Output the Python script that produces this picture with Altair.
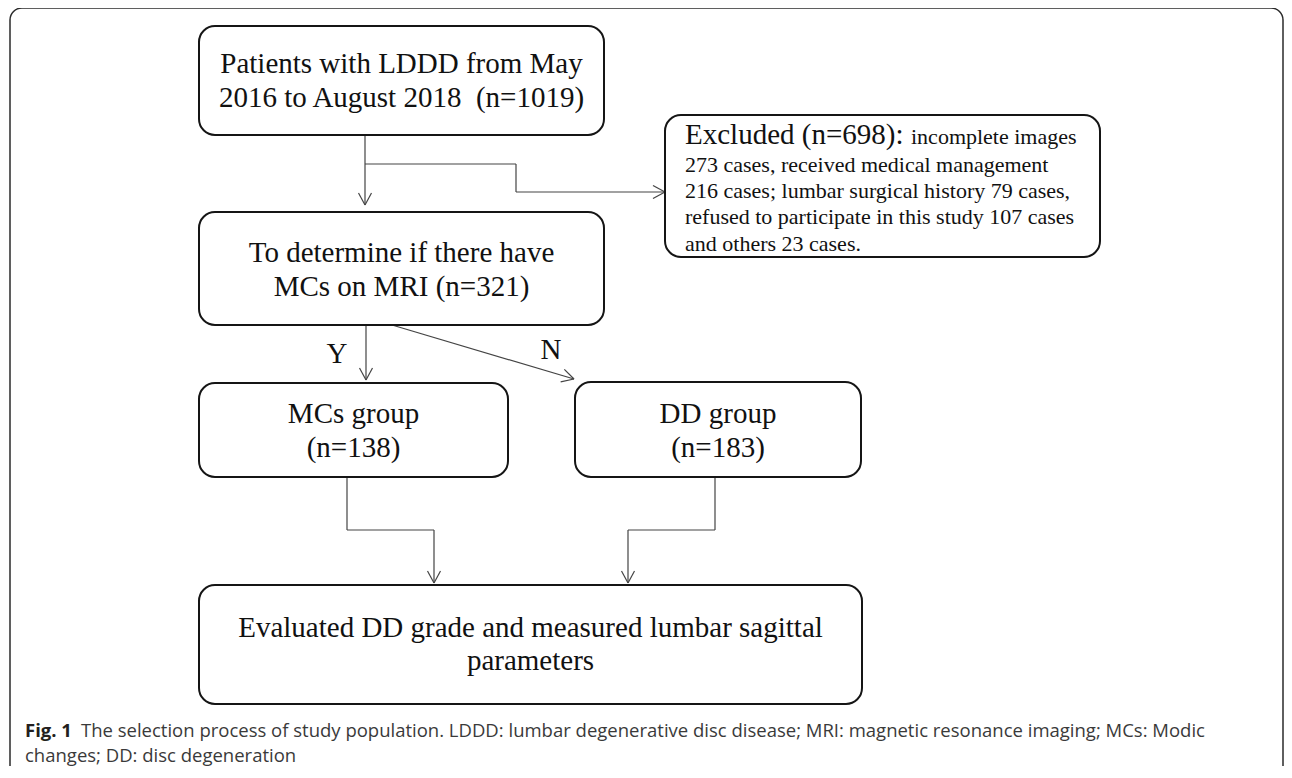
import altair as alt
import pandas as pd

# ---------------- data (page pixel coordinates) ----------------
box_left = [199, 199, 665, 199, 575, 199]
box_right = [604, 604, 1100, 508, 861, 862]
box_top = [26, 212, 115, 383, 382, 585]
box_bottom = [135, 325, 257, 477, 477, 704]

frame_left = [10]
frame_right = [1283]
frame_top = [8]
frame_bottom = [780]

# connectors as polylines; the last point of each carries an arrowhead
conn_x = [[365, 365], [365, 516, 516, 665], [366, 366], [392, 574],
          [347, 347, 434, 434], [715, 715, 628, 628]]
conn_y = [[135, 205], [164, 164, 192, 192], [325, 380], [325, 379],
          [477, 530, 530, 583], [477, 530, 530, 583]]

# centred box texts
center_text = ["Patients with LDDD from May", "2016 to August 2018\u00a0 (n=1019)",
               "To determine if there have", "MCs on MRI (n=321)",
               "MCs group", "(n=138)", "DD group", "(n=183)",
               "Evaluated DD grade and measured lumbar sagittal", "parameters",
               "Y", "N"]
center_x = [401.5, 401.5, 401.5, 401.5, 353.5, 353.5, 718, 718, 530.5, 530.5, 337, 551]
center_y = [73, 107, 262, 296, 423, 457, 423, 457, 637, 670, 363, 359]

# excluded box (left aligned)
excl_text = ["Excluded (n=698):", "incomplete images",
             "273 cases, received medical management",
             "216 cases; lumbar surgical history 79 cases,",
             "refused to participate in this study 107 cases",
             "and others 23 cases."]
excl_x = [685, 911, 685, 685, 685, 685]
excl_y = [144, 144, 172, 198, 224, 251]
excl_size = [29, 22, 22, 22, 22, 22]

# caption
cap_text = ["Fig. 1",
            "The selection process of study population. LDDD: lumbar degenerative disc disease; MRI: magnetic resonance imaging; MCs: Modic",
            "changes; DD: disc degeneration"]
cap_x = [25, 81, 25]
cap_y = [737, 737, 762]
cap_bold = [True, False, False]

# ---------------- build tables ----------------
W, H = 1276, 758
X = alt.Scale(domain=[8, 8 + W], range=[0, W], nice=False, zero=False)
Y = alt.Scale(domain=[8, 8 + H], range=[0, H], nice=False, zero=False)

boxes = pd.DataFrame({"x": box_left, "x2": box_right, "y": box_top, "y2": box_bottom})
frame = pd.DataFrame({"x": frame_left, "x2": frame_right, "y": frame_top, "y2": frame_bottom})

segs = []
for xs, ys in zip(conn_x, conn_y):
    for i in range(len(xs) - 1):
        segs.append({"x": xs[i], "y": ys[i], "x2": xs[i + 1], "y2": ys[i + 1]})
    # arrowhead wings
    dx, dy = xs[-1] - xs[-2], ys[-1] - ys[-2]
    L = (dx * dx + dy * dy) ** 0.5
    ux, uy = dx / L, dy / L
    px, py = -uy, ux
    tx, ty = xs[-1], ys[-1]
    for s in (1, -1):
        segs.append({"x": tx - 12 * ux + s * 6.5 * px, "y": ty - 12 * uy + s * 6.5 * py,
                     "x2": tx, "y2": ty})
segs = pd.DataFrame(segs)

ctext = pd.DataFrame({"t": center_text, "x": center_x, "y": center_y})
etext = pd.DataFrame({"t": excl_text, "x": excl_x, "y": excl_y, "s": excl_size})
cap = pd.DataFrame({"t": cap_text, "x": cap_x, "y": cap_y, "b": cap_bold})

def xy(x="x", y="y"):
    return dict(x=alt.X(f"{x}:Q", scale=X, axis=None), y=alt.Y(f"{y}:Q", scale=Y, axis=None))

frame_layer = alt.Chart(frame).mark_rect(
    cornerRadius=12, fill="white", fillOpacity=0, stroke="#2b2b2b", strokeWidth=1.5
).encode(**xy(), x2="x2:Q", y2="y2:Q")

seg_layer = alt.Chart(segs).mark_rule(color="#444444", strokeWidth=1.2).encode(
    **xy(), x2="x2:Q", y2="y2:Q")

box_layer = alt.Chart(boxes).mark_rect(
    cornerRadius=16, fill="white", stroke="#151515", strokeWidth=2
).encode(**xy(), x2="x2:Q", y2="y2:Q")

ctext_layer = alt.Chart(ctext).mark_text(
    align="center", baseline="alphabetic", font="Liberation Serif", fontSize=29, color="#111111"
).encode(**xy(), text="t:N")

etext_layer = alt.Chart(etext).mark_text(
    align="left", baseline="alphabetic", font="Liberation Serif", color="#111111"
).encode(**xy(), text="t:N", size=alt.Size("s:Q", scale=None, legend=None))

cap_bold_layer = alt.Chart(cap[cap.b]).mark_text(
    align="left", baseline="alphabetic", font="Open Sans", fontSize=18.5, fontWeight="bold", color="#231f20"
).encode(**xy(), text="t:N")

cap_layer = alt.Chart(cap[~cap.b]).mark_text(
    align="left", baseline="alphabetic", font="Open Sans", fontSize=18.5, color="#3a3a3a"
).encode(**xy(), text="t:N")

chart = alt.layer(
    frame_layer, seg_layer, box_layer, ctext_layer, etext_layer, cap_bold_layer, cap_layer
).properties(width=W, height=H, padding=0, autosize=alt.AutoSizeParams(type="none")
).configure_view(stroke=None)

chart.save("out.html", embed_options={"renderer": "svg", "actions": False})
